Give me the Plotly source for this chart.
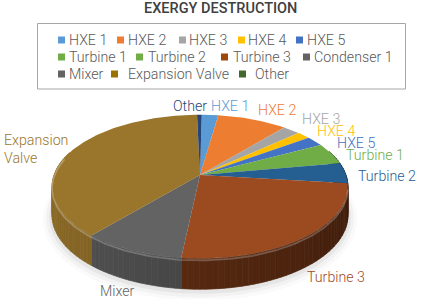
import numpy as np
import plotly.graph_objects as go

categories = ["HXE 1", "HXE 2", "HXE 3", "HXE 4", "HXE 5", "Turbine 1", "Turbine 2",
              "Turbine 3", "Condenser 1", "Mixer", "Expansion Valve", "Other"]
values = [2.1, 8.9, 2.2, 1.7, 2.3, 4.8, 4.6, 24.9, 0.0, 9.6, 38.3, 0.6]
slice_colors = ["#5b9bd5", "#ed7d31", "#a5a5a5", "#ffc000", "#4472c4", "#70ad47", "#255e91",
                "#9c4a1f", "#636363", "#636363", "#9a762c", "#264478"]
swatch_colors = ["#5b9bd5", "#ed7d31", "#a5a5a5", "#ffc000", "#4472c4", "#70ad47", "#70ad47",
                 "#9e480e", "#636363", "#636363", "#997300", "#43682b"]
swatch_x = [58, 117, 179, 238, 296, 58, 136, 221, 303, 58, 111, 239]
legend_text_x = [68, 127, 188, 247, 306, 68, 147, 232, 313, 68, 127, 254]
legend_y = [40, 40, 40, 40, 40, 57, 57, 57, 57, 74, 74, 74]
label_text = ["HXE 1", "HXE 2", "HXE 3", "HXE 4", "HXE 5", "Turbine 1", "Turbine 2",
              "Turbine 3", None, "Mixer", "Expansion<br>Valve", "Other"]
label_x = [210, 257, 301, 316, 336, 345, 357, 306, None, 99, 3, 172]
label_y = [106, 110, 119, 131, 143, 155, 176, 277, None, 291, 149, 106]

FONT = "Roboto"
CX, CY, A, B, K = 200.0, 175.0, 146.0, 70.0, 0.161
DEPTH = 28.0
START_DEG = 0.8


def project(theta, depth=0.0):
    X, Y = np.sin(theta), np.cos(theta)
    w = 1 + K * Y
    return CX + A * X / w, CY - B * Y / w + depth * (1 - 0.1 * Y)


def shade(hex_color, f):
    r, g, b = (int(hex_color[i:i + 2], 16) for i in (1, 3, 5))
    return f"rgb({int(r * f)},{int(g * f)},{int(b * f)})"


fig = go.Figure()

# soft shadow underneath
th = np.linspace(0, 2 * np.pi, 181)
for grow, op in [(9, 0.03), (6, 0.05), (3, 0.07)]:
    sx, sy = project(th, DEPTH + 1)
    fig.add_trace(go.Scatter(x=CX + (sx - CX) * (1 + grow / A), y=CY + (sy - CY) * (1 + grow / 100),
                             mode="lines", fill="toself", line=dict(width=0),
                             fillcolor=f"rgba(90,90,90,{op})", hoverinfo="skip"))

fractions = np.array(values) / sum(values) * 2 * np.pi
edges = np.radians(START_DEG) + np.concatenate([[0], np.cumsum(fractions)])

# side wall, shaded in thin strips, from data-derived arcs
for c, t0, t1 in zip(slice_colors, edges[:-1], edges[1:]):
    if t1 <= t0:
        continue
    n = max(1, int(np.degrees(t1 - t0) / 2))
    ts = np.linspace(t0, t1, n + 1)
    for a0, a1 in zip(ts[:-1], ts[1:]):
        mid = np.degrees((a0 + a1) / 2)
        if not 70 < mid < 290:
            continue
        # each slice's wall darkens towards the right
        f = np.interp(mid, [90, 186, 186.01, 220, 221, 285], [0.38, 0.56, 0.72, 0.80, 0.86, 0.92])
        tt = np.linspace(a0, a1, 4)
        xt, yt = project(tt)
        xb, yb = project(tt, DEPTH)
        col = shade(c, f)
        fig.add_trace(go.Scatter(x=np.r_[xt, xb[::-1], xt[0]], y=np.r_[yt, yb[::-1], yt[0]], mode="lines",
                                 fill="toself", line=dict(width=0.7, color=col), fillcolor=col,
                                 hoverinfo="skip"))

# top face
for c, t0, t1, name, v in zip(slice_colors, edges[:-1], edges[1:], categories, values):
    if t1 <= t0:
        continue
    tt = np.linspace(t0, t1, max(3, int(np.degrees(t1 - t0)) + 2))
    xa, ya = project(tt)
    fig.add_trace(go.Scatter(x=np.r_[CX, xa, CX], y=np.r_[CY, ya, CY], mode="lines", fill="toself",
                             line=dict(width=0), fillcolor=c, name=name,
                             text=f"{name}: {v}%", hoverinfo="text"))

# highlight on the rim
rim = np.radians(np.linspace(100, 285, 120))
for off, op in [(1.0, 0.10), (2.0, 0.22)]:
    rx, ry = project(rim, off)
    fig.add_trace(go.Scatter(x=rx, y=ry, mode="lines", line=dict(color=f"rgba(255,255,255,{op})", width=1.5),
                             hoverinfo="skip"))

# legend swatches
fig.add_trace(go.Scatter(x=[sx_ + 3.5 for sx_ in swatch_x], y=legend_y, mode="markers",
                         marker=dict(symbol="square", size=7, color=swatch_colors, line=dict(width=0)),
                         hoverinfo="skip"))

ann = [dict(x=220, y=8, text="EXERGY DESTRUCTION", showarrow=False, xanchor="center", yanchor="middle",
            font=dict(family=FONT, size=14.5, color="#404040", weight=500))]
for name, tx, ty in zip(categories, legend_text_x, legend_y):
    ann.append(dict(x=tx, y=ty, text=name, showarrow=False, xanchor="left", yanchor="middle", xshift=-1.5,
                    font=dict(family=FONT, size=14.2, color="#595959", weight=300)))
for t, lx, ly, c in zip(label_text, label_x, label_y, slice_colors):
    if t is None:
        continue
    ann.append(dict(x=lx, y=ly, text=t, showarrow=False, xanchor="left", yanchor="middle", align="left", xshift=-1.5,
                    font=dict(family=FONT, size=14.2, color=c, weight=300)))

fig.update_layout(
    width=422, height=299, margin=dict(l=0, r=0, t=0, b=0), showlegend=False,
    paper_bgcolor="white", plot_bgcolor="white",
    xaxis=dict(range=[0, 422], visible=False, fixedrange=True),
    yaxis=dict(range=[299, 0], visible=False, fixedrange=True),
    annotations=ann,
    shapes=[dict(type="rect", x0=37.5, x1=405.5, y0=23.5, y1=89, line=dict(color="#a6a6a6", width=1))],
)
fig.write_html("out.html", config=dict(displayModeBar=False),
               post_script="document.body.style.margin='0';document.body.style.overflow='hidden';")
